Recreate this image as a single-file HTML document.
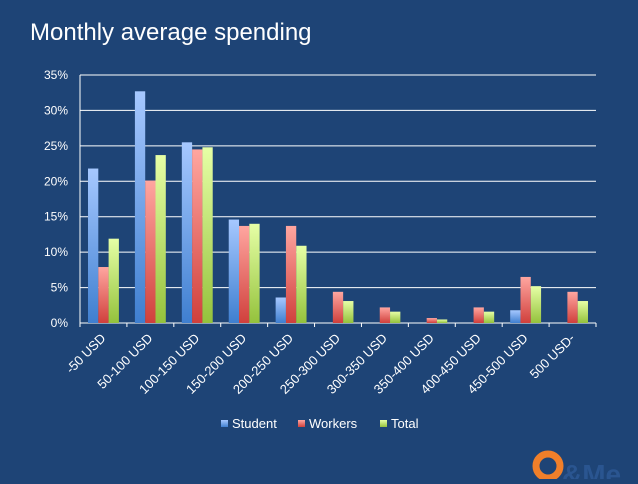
<!DOCTYPE html>
<html><head><meta charset="utf-8"><style>
body{margin:0;width:638px;height:479px;background:#1e4476;overflow:hidden;font-family:"Liberation Sans",sans-serif}
</style></head><body>
<svg width="638" height="479">
<defs>
<linearGradient id="gb" x1="0" y1="0" x2="0" y2="1"><stop offset="0" stop-color="#a6c8ff"/><stop offset="1" stop-color="#3f7fd0"/></linearGradient>
<linearGradient id="gr" x1="0" y1="0" x2="0" y2="1"><stop offset="0" stop-color="#ffa6a0"/><stop offset="1" stop-color="#d0403c"/></linearGradient>
<linearGradient id="gg" x1="0" y1="0" x2="0" y2="1"><stop offset="0" stop-color="#e6ffa6"/><stop offset="1" stop-color="#94c23c"/></linearGradient>
</defs>
<text x="30" y="40" fill="#fff" font-size="24">Monthly average spending</text>
<g id="plot"></g>
<g>
<rect x="221" y="420" width="7" height="7" fill="url(#gb)"/><text x="232" y="428" fill="#fff" font-size="13">Student</text>
<rect x="298" y="420" width="7" height="7" fill="url(#gr)"/><text x="309" y="428" fill="#fff" font-size="13">Workers</text>
<rect x="380" y="420" width="7" height="7" fill="url(#gg)"/><text x="391" y="428" fill="#fff" font-size="13">Total</text>
</g>
<g>
<circle cx="548" cy="466" r="12" fill="none" stroke="#f07f2a" stroke-width="7"/>
<text x="562" y="484" fill="#2a5590" font-size="28" font-weight="bold">&amp;Me</text>
</g>
</svg>
<script>
const categories=["-50 USD","50-100 USD","100-150 USD","150-200 USD","200-250 USD","250-300 USD","300-350 USD","350-400 USD","400-450 USD","450-500 USD","500 USD-"];
const student=[21.8,32.7,25.5,14.6,3.6,0,0,0,0,1.8,0];
const workers=[7.9,20.1,24.5,13.7,13.7,4.4,2.2,0.7,2.2,6.5,4.4];
const total=[11.9,23.7,24.8,14.0,10.9,3.1,1.6,0.5,1.6,5.2,3.1];
const ticks=[0,5,10,15,20,25,30,35];
const NS="http://www.w3.org/2000/svg";
const g=document.getElementById('plot');
const x0=80,x1=596,y0=323,y1=75;
const cw=(x1-x0)/categories.length;
const y=v=>y0-(v/35)*(y0-y1);
const xc=i=>x0+i*cw;
function mk(t,a){const e=document.createElementNS(NS,t);for(const k in a)e.setAttribute(k,a[k]);g.appendChild(e);return e;}
ticks.forEach(t=>{
 const l=mk('line',{x1:x0,x2:x1,y1:y(t),y2:y(t),stroke:'#fff','stroke-width':1});
 
 
 const tx=mk('text',{x:x0-12,y:y(t)+4,fill:'#fff','font-size':12,'text-anchor':'end'});
 tx.textContent=t+'%';
 
 
});
mk('line',{x1:x0,x2:x0,y1:y1,y2:y0+4,stroke:'#fff'});
const series=[[student,'url(#gb)','student'],[workers,'url(#gr)','workers'],[total,'url(#gg)','total']];
const bw=10.3;
categories.forEach((c,i)=>{
 mk('line',{x1:xc(i+1),x2:xc(i+1),y1:y0,y2:y0+4,stroke:'#fff'});
 series.forEach((s,j)=>{
  const v=s[0][i];
  const r=mk('rect',{x:xc(i)+8+j*bw,y:y(v),width:bw,height:y0-y(v),fill:s[1]});
  
  
 });
 const cx=xc(i)+cw/2+3,cy=y0+16;
 const t=mk('text',{x:cx,y:cy,fill:'#fff','font-size':13,'text-anchor':'end',transform:`rotate(-45 ${cx} ${cy})`});
 t.textContent=c;
 
 
});
</script>
</body></html>
